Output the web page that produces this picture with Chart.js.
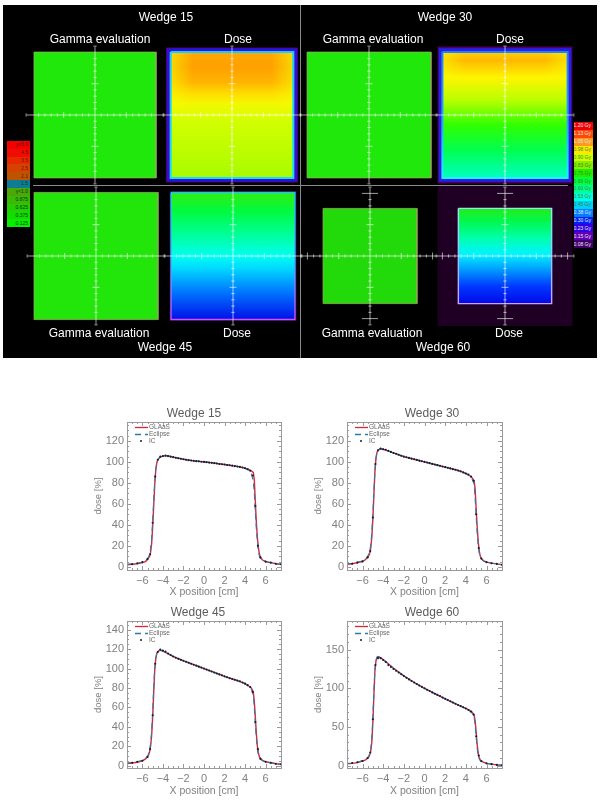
<!DOCTYPE html>
<html><head><meta charset="utf-8">
<script src="https://cdn.jsdelivr.net/npm/chart.js@4/dist/chart.umd.min.js"></script>
<style>
html,body{margin:0;padding:0;background:#fff;width:600px;height:806px;overflow:hidden;font-family:"Liberation Sans",Arial,sans-serif}
#black{position:absolute;left:3px;top:5px;width:594px;height:353px;background:#000}
.div{position:absolute;background:#8a8a8a}
canvas{position:absolute}
.t{position:absolute;color:#fff;font-size:12px;transform:translate(-50%,-50%);white-space:nowrap}
.t.g{color:#5c5c5c}
.strip{position:absolute}
.strip div{font-size:5px;line-height:1;white-space:nowrap;overflow:hidden;padding-right:2px;box-sizing:border-box;display:flex;align-items:center;justify-content:flex-end}
</style></head><body>
<div id="black"></div>
<div class="div" style="left:300px;top:5px;width:1px;height:353px"></div>
<div class="div" style="left:33px;top:185px;width:535px;height:1px"></div>
<div id="root"></div>
<script>
// ---------- profile data ----------
const wedgeTitles = ['Wedge 15','Wedge 30','Wedge 45','Wedge 60'];
const seriesNames = ['GLAaS','Eclipse','IC'];
const xLine = [-7.5,-7,-6.5,-6,-5.7,-5.5,-5.4,-5.3,-5.2,-5.1,-5,-4.9,-4.8,-4.7,-4.6,-4.5,-4.3,-4,-3.7,-3,-2,-1,0,1,2,3,3.5,4,4.3,4.6,4.8,4.9,5,5.1,5.2,5.3,5.4,5.5,5.7,6,6.5,7,7.5];
const xIC = [-7.5,-7,-6.5,-6,-5.5,-5.25,-5,-4.75,-4.5,-4.25,-4,-3.75,-3.5,-3.25,-3,-2.75,-2.5,-2.25,-2,-1.75,-1.5,-1.25,-1,-0.75,-0.5,-0.25,0,0.25,0.5,0.75,1,1.25,1.5,1.75,2,2.25,2.5,2.75,3,3.25,3.5,3.75,4,4.25,4.5,4.75,5,5.25,5.5,6,6.5,7,7.5];
const glaas15 = [2,2.5,3,4,5,7,8.5,10,14,22,38,58,78,92,99,102,104.5,105.5,106,104.5,102.5,101,100,98.8,97.5,96,95.2,94,93,91.5,90,83,62,42,28,18,12,9,6.5,5,4,3,2.5];
const eclipse15 = [2.5,3,3.5,4.5,6,8,9.5,12,17,27,44,63,81,93,99,102,104.5,105.5,106,104.5,102.5,101,100,98.8,97.5,96,95.2,93.8,92.5,89,82,70,52,36,24,15,10,8,6,5,4,3,2.5];
const ic15 = [2,2.5,3.5,4.5,7.5,12,42,86,102,105,105.5,106,105.5,105,104.5,104,103.5,103,102.5,102,101.6,101.3,101,100.7,100.5,100.2,100,99.6,99.3,99.1,98.8,98.4,98,97.8,97.5,97.1,96.8,96.4,96,95.6,95.2,94.7,94,93,91.5,87,58,20,9,5,4,3,2.5];
const glaas30 = [2.5,3,4,5,7,9,10.5,13,18,28,45,68,90,103,109,111,112.5,112,111,108.5,105,102.5,100,97.5,95,92.5,91,89,87.5,85,82,74,55,38,24,15,10,8,6,4.5,3.5,2.8,2];
const eclipse30 = [3,3.5,4.5,5.5,7.5,10,12,15,21,32,50,72,92,104,109,111,112.5,112,111,108.5,105,102.5,100,97.5,95,92.5,91,88.8,87,84,79,65,47,32,20,13,9,7.5,5.5,4.5,3.5,2.8,2];
const ic30 = [2.5,3,4,5.2,9,15,47,98,111,112.8,112,111.5,110.5,109.5,108.5,107.7,106.8,105.9,105,104.4,103.8,103.1,102.5,101.9,101.2,100.6,100,99.4,98.8,98.1,97.5,96.9,96.3,95.6,95,94.4,93.8,93.1,92.5,91.8,91,90,89,88,86,82,50,18,8,4.5,3.5,2.8,2];
const glaas45 = [2.2,2.8,3.5,5,7,9,11,14,20,31,50,75,98,110,115.5,117.5,119,118,116.5,112.5,108,104,100,96,92,88.5,86.5,84.5,82.5,80,76,66,50,33,20,13,9,7.5,5.5,4,3,2,1.5];
const eclipse45 = [2.8,3.3,4,5.5,7.5,10,12,16,23,35,55,80,100,110.5,115.5,117.5,119,118,116.5,112.5,108,104,100,96,92,88.5,86.5,84.3,82,79,73,60,43,28,17,11,8,6.5,5,4,3,2,1.5];
const ic45 = [2.2,3,4,5,9,17,52,105,117,119.5,118.5,117.5,115.5,114,112.5,111.2,110,109,108,107,106,105,104,103,102,101,100,99,98,97,96,95,94,93,92,91,90,89.2,88.5,87.7,87,85.7,84.5,83,81,76,45,17,7,4,3,2,1.5];
const glaas60 = [2.5,3,4,6,7.5,9.5,11,14,19,30,55,90,122,135,140,141,140,137,134,126,116,107.5,100,93,86.5,80,77,74,72,69.5,65.5,58,43,27,16,10,7.5,6,4.5,3,2,1,0.5];
const eclipse60 = [3,3.5,4.5,6.5,8,10.5,12,16,22,35,62,96,125,136,140,141,140,137,134,126,116,107.5,100,93,86.5,80,77,73.8,71.5,68,63,52,36,22,13,8.5,6.5,5.5,4,3,2,1,0.5];
const ic60 = [3,3.5,4.5,6,10,17,60,130,139,139,136.5,134,130,127.5,125,122.7,120.5,118.2,116,113.7,111.5,109.5,107.5,105.6,103.7,101.8,100,98.2,96.5,94.7,93,91.5,90,88.2,86.5,84.8,83.2,81.6,80,78.5,77,75.5,74,72,70,66,38,13,6,3,2,1,0.5];
const xTicks = [-6,-4,-2,0,2,4,6];
const yTicksShort = [0,20,40,60,80,100,120];
const yTicksMid = [0,20,40,60,80,100,120,140];
const yTicksTall = [0,50,100,150];

// ---------- map data (cm) ----------
const fieldHalfWidth = [9.75,9.8,9.9,10,9.9,9.9,7.5,7.45];
const fieldHalfHeight = [10.05,10.05,10.05,10.05,10.15,10.15,7.6,7.6];
const glowHalfWidth = [0,10.55,0,10.8,0,10.2,0,10.8];
const glowHalfHeight = [0,10.8,0,10.95,0,10.4,0,11.2];
const crossMinor = [-11,-9,-8,-7,-6,-4,-3,-2,-1,1,2,3,4,6,7,8,9,11];
const crossFive = [-5,5];
const crossTen = [-10,10];
const gammaScale = ['#20e80a','#20e80a','#22e60a','#22da0a'];
const stops15 = [[0,'#ffa800'],[0.12,'#ffa000'],[0.24,'#ffb400'],[0.33,'#ffdc00'],[0.41,'#f4f800'],[0.55,'#d2ff00'],[1,'#a8fb00']];
const stops30 = [[0,'#ffd000'],[0.06,'#ffb800'],[0.12,'#ffd000'],[0.2,'#fff400'],[0.38,'#baff00'],[0.58,'#30ff00'],[0.78,'#00ff50'],[1,'#00ffc0']];
const stops45 = [[0,'#30ee10'],[0.15,'#00fa40'],[0.33,'#00ff98'],[0.5,'#00fff0'],[0.6,'#00d8ff'],[0.78,'#0078ff'],[1,'#0010e8']];
const stops60 = [[0,'#22ee18'],[0.14,'#00f850'],[0.32,'#00ffb0'],[0.48,'#00f4ff'],[0.62,'#00a8ff'],[0.82,'#0038ff'],[1,'#0008e8']];
const doseStops = [stops15,stops30,stops45,stops60];
const sideFadeDepth = [0.42,0.22,0,0];
const sideFadeStops = [[0,'rgba(245,250,0,0.6)'],[0.18,'rgba(245,250,0,0)'],[0.82,'rgba(245,250,0,0)'],[1,'rgba(245,250,0,0.6)']];
const glowColors = ['#4a0068','#4a0060','#1e0434','#1f0024'];
const ringColors = ['#3010d8','#2820e8','#4010c0','#2a0060'];
const edgeStops = [
  [[0,'#10d0ff'],[1,'#10e0f0']],
  [[0,'#2080ff'],[0.5,'#20a0ff'],[1,'#20f0ff']],
  [[0,'#20c0ff'],[0.5,'#40b0ff'],[1,'#d050ff']],
  [[0,'#a0e0ff'],[0.5,'#a0c0ff'],[1,'#d0a0ff']]
];
const gammaLegend = ['γ≥5.0','4.5','3.5','2.5','2.1','1.5','γ<1.0','0.875','0.625','0.375','0.125'];
const gammaColors = ['#f40000','#f00c00','#e62a00','#d64200','#bc5400','#0f7c96','#4ca808','#3cb806','#26cc04','#14dc02','#06ee00'];
const doseLegend = ['1.20 Gy','1.13 Gy','1.05 Gy','0.98 Gy','0.90 Gy','0.83 Gy','0.75 Gy','0.68 Gy','0.60 Gy','0.53 Gy','0.45 Gy','0.38 Gy','0.30 Gy','0.23 Gy','0.15 Gy','0.08 Gy'];
const doseColors = ['#f00000','#ff4800','#ff9a18','#ffe800','#d0ff00','#88ee00','#20ee00','#00ff40','#00ff90','#00ffe0','#00d0ff','#0080ff','#0020f0','#3000e0','#6000b0','#40006a'];

Chart.defaults.font.family = '"Liberation Sans",Arial,sans-serif';
const root = document.getElementById('root');
function makeCanvas(left,top,w,h){
  const c=document.createElement('canvas');
  c.width=w;c.height=h;c.style.left=left+'px';c.style.top=top+'px';c.style.width=w+'px';c.style.height=h+'px';
  root.appendChild(c);return c;
}
// ---------- map panels ----------
const R = 11.5, PANEL = 144;
const panelCenters = [[95,115],[232,115],[369,115],[504.5,115],[96,255.5],[233,255.5],[370,255.5],[504.5,255.5]];
function gradient(chart,from,to,stops){
  const y=chart.scales.y;
  const a=y?y.getPixelForValue(from):NaN,b=y?y.getPixelForValue(to):NaN;
  if(!isFinite(a)||!isFinite(b)) return stops[0][1];
  const g=chart.ctx.createLinearGradient(0,a,0,b);
  stops.forEach(s=>g.addColorStop(s[0],s[1]));
  return g;
}
function gradientX(chart,from,to,stops){
  const x=chart.scales.x;
  const a=x?x.getPixelForValue(from):NaN,b=x?x.getPixelForValue(to):NaN;
  if(!isFinite(a)||!isFinite(b)) return 'rgba(0,0,0,0)';
  const g=chart.ctx.createLinearGradient(a,0,b,0);
  stops.forEach(s=>g.addColorStop(s[0],s[1]));
  return g;
}
function rectFill(hw,top,bottom,color){
  return {data:[{x:-hw,y:top},{x:hw,y:top}],fill:{value:bottom},borderWidth:0,backgroundColor:color,pointRadius:0,showLine:true};
}
function rectLine(hw,hh,color,width){
  return {data:[{x:-hw,y:hh},{x:hw,y:hh},{x:hw,y:-hh},{x:-hw,y:-hh},{x:-hw,y:hh}],fill:false,borderColor:color,borderWidth:width,pointRadius:0,showLine:true};
}
function crossDatasets(long){
  const col='rgba(255,255,255,0.62)';
  const tick=(vals,horizontal,r)=>({data:vals.map(v=>horizontal?{x:v,y:0}:{x:0,y:v}),showLine:false,pointStyle:'line',pointRadius:r,pointRotation:horizontal?90:0,pointBorderColor:col,pointBorderWidth:1,pointBackgroundColor:col});
  const sets=[
    {data:[{x:-10.9,y:0},{x:10.9,y:0}],showLine:true,borderColor:col,borderWidth:1,pointRadius:0,fill:false},
    {data:[{x:0,y:-10.9},{x:0,y:10.9}],showLine:true,borderColor:col,borderWidth:1,pointRadius:0,fill:false},
    tick(crossMinor,true,1.6),tick(crossMinor,false,1.6),tick(crossFive,true,3),tick(crossFive,false,3.5)
  ];
  if(long){sets.push(tick(crossTen,true,3.5),tick(crossTen,false,8));}
  return sets;
}
panelCenters.forEach((c,i)=>{
  const w=Math.floor(i/2), isDose=i%2===1;
  const hw=fieldHalfWidth[i],hh=fieldHalfHeight[i];
  const layers=[];
  if(isDose){
    layers.push(rectFill(glowHalfWidth[i],glowHalfHeight[i],-glowHalfHeight[i],glowColors[w]));
    if(w<2) layers.push(rectFill(hw+0.62,hh+0.62,-hh-0.62,ringColors[w]));
    layers.push(rectFill(hw,hh,-hh,ctx=>gradient(ctx.chart,hh,-hh,doseStops[w])));
    if(sideFadeDepth[w]>0) layers.push(rectFill(hw,hh,hh-2*hh*sideFadeDepth[w],ctx=>gradientX(ctx.chart,-hw,hw,sideFadeStops)));
    layers.push(rectLine(hw,hh,ctx=>gradient(ctx.chart,hh,-hh,edgeStops[w]),w<2?2:1.4));
  }else{
    layers.push(rectFill(hw,hh,-hh,gammaScale[w]));
    layers.push(rectLine(hw,hh,'rgba(150,170,90,0.8)',1));
  }
  crossDatasets(w===3).forEach(d=>layers.push(d));
  const n=layers.length;
  layers.forEach((d,k)=>{d.order=n-k;});
  const cv=makeCanvas(Math.round(c[0]-PANEL/2),Math.round(c[1]-PANEL/2),PANEL,PANEL);
  new Chart(cv,{type:'scatter',data:{datasets:layers},options:{
    responsive:false,animation:false,events:[],layout:{padding:0,autoPadding:false},
    plugins:{legend:{display:false},title:{display:false},tooltip:{enabled:false}},
    scales:{x:{type:'linear',min:-R,max:R,display:false},y:{type:'linear',min:-R,max:R,display:false}}
  }});
});

// ---------- text ----------
function label(text,x,y,cls){const d=document.createElement('div');d.className='t'+(cls?' '+cls:'');d.textContent=text;d.style.left=x+'px';d.style.top=y+'px';root.appendChild(d);}
[[wedgeTitles[0],166,17],['Gamma evaluation',100,39],['Dose',238,39],
 [wedgeTitles[1],445,17],['Gamma evaluation',373,39],['Dose',510,39],
 ['Gamma evaluation',99,333],['Dose',237,333],[wedgeTitles[2],165,347],
 ['Gamma evaluation',372,333],['Dose',509,333],[wedgeTitles[3],443,347]].forEach(a=>label(a[0],a[1],a[2]));
function strip(left,top,w,rowH,labels,colors,textColor){
  const s=document.createElement('div');s.className='strip';s.style.left=left+'px';s.style.top=top+'px';s.style.width=w+'px';
  labels.forEach((t,i)=>{const r=document.createElement('div');r.textContent=t;r.style.height=rowH+'px';r.style.background=colors[i];r.style.color=textColor(i);s.appendChild(r);});
  root.appendChild(s);
}
strip(7,141,23,7.82,gammaLegend,gammaColors,i=>i<5?'#701000':'#063c06');
strip(574,122,19,7.88,doseLegend,doseColors,i=>(i<3||i>10)?'#e8e8ff':'#3c8a20');

// ---------- profile charts ----------
const axisDecor={id:'axisDecor',afterDatasetsDraw(chart,args,opts){
  const {ctx,chartArea:a,scales:{x,y}}=chart;
  ctx.save();ctx.strokeStyle='#9a9a9a';ctx.lineWidth=1;
  ctx.strokeRect(a.left+.5,a.top+.5,a.right-a.left,a.bottom-a.top);
  ctx.beginPath();
  const hTick=(v,l)=>{const p=Math.round(x.getPixelForValue(v))+.5;ctx.moveTo(p,a.bottom);ctx.lineTo(p,a.bottom-l);ctx.moveTo(p,a.top);ctx.lineTo(p,a.top+l);};
  const vTick=(v,l)=>{const p=Math.round(y.getPixelForValue(v))+.5;ctx.moveTo(a.left,p);ctx.lineTo(a.left+l,p);ctx.moveTo(a.right,p);ctx.lineTo(a.right-l,p);};
  for(let v=-7;v<=7;v+=.5) hTick(v,xTicks.includes(v)?4:2);
  for(let v=0;v<=y.max;v+=opts.minorY) vTick(v,opts.majors.includes(v)?4:2);
  ctx.stroke();
  // legend
  const ds=chart.data.datasets;
  ctx.font='6.5px "Liberation Sans",Arial,sans-serif';ctx.textBaseline='middle';
  const lx=a.left+8,rows=[a.top+5.5,a.top+12.5,a.top+19];
  ctx.lineWidth=1.3;ctx.strokeStyle=ds[0].borderColor;ctx.beginPath();ctx.moveTo(lx,rows[0]);ctx.lineTo(lx+13,rows[0]);ctx.stroke();
  ctx.strokeStyle=ds[1].borderColor;ctx.setLineDash(ds[1].borderDash);ctx.beginPath();ctx.moveTo(lx,rows[1]);ctx.lineTo(lx+13,rows[1]);ctx.stroke();ctx.setLineDash([]);
  ctx.fillStyle=ds[2].pointBackgroundColor;ctx.beginPath();ctx.arc(lx+6,rows[2],1,0,7);ctx.fill();
  ctx.fillStyle='#666';
  rows.forEach((r,i)=>ctx.fillText(ds[i].label,lx+14,r));
  ctx.restore();
}};
const minus=v=>String(v).replace('-','\u2212');
function profile(spec){
  const toPts=(xs,ys)=>xs.map((v,i)=>({x:v,y:ys[i]}));
  const cv=makeCanvas(spec.left,spec.top,spec.width,200);
  label(spec.title,spec.titleX,spec.top+11,'g');
  new Chart(cv,{type:'scatter',plugins:[axisDecor],data:{datasets:[
    {label:seriesNames[0],data:toPts(xLine,spec.glaas),showLine:true,borderColor:'#d8263a',borderWidth:1.4,pointRadius:0,tension:0,order:3},
    {label:seriesNames[1],data:toPts(xLine,spec.eclipse),showLine:true,borderColor:'#2c7ca8',borderWidth:1.1,borderDash:[6,4],pointRadius:0,tension:0,order:2},
    {label:seriesNames[2],data:toPts(xIC,spec.ic),showLine:false,pointRadius:1.05,pointBackgroundColor:'#141c2c',pointBorderWidth:0,order:1}
  ]},options:{
    responsive:false,animation:false,events:[],
    layout:{padding:{left:0,right:spec.right,top:20,bottom:0},autoPadding:false},
    plugins:{
      legend:{display:false},tooltip:{enabled:false},title:{display:false},
      axisDecor:{minorY:spec.minorY,majors:spec.yTicks}
    },
    scales:{
      x:{type:'linear',min:-7.5,max:7.5,grid:{display:false,drawTicks:false},border:{display:false},
        afterBuildTicks:s=>{s.ticks=xTicks.map(v=>({value:v}));},
        afterFit:s=>{s.height=spec.xH;},
        ticks:{color:'#808080',font:{size:11},padding:4,maxRotation:0,autoSkip:false,callback:minus},
        title:{display:true,text:'X position [cm]',color:'#808080',font:{size:10.5},padding:{top:0,bottom:4}}},
      y:{type:'linear',min:spec.yMin,max:spec.yMax,grid:{display:false,drawTicks:false},border:{display:false},
        afterBuildTicks:s=>{s.ticks=spec.yTicks.map(v=>({value:v}));},
        afterFit:s=>{s.width=spec.plotL-spec.left;},
        ticks:{color:'#808080',font:{size:11},padding:3,autoSkip:false,callback:minus},
        title:{display:true,text:'dose [%]',color:'#808080',font:{size:9.5},padding:{top:3,bottom:0}}}
    }
  }});
}
profile({title:wedgeTitles[0],titleX:194,left:90,top:402,width:208,right:17,plotL:127,xH:32,yMin:-3,yMax:138,yTicks:yTicksShort,minorY:5,glaas:glaas15,eclipse:eclipse15,ic:ic15});
profile({title:wedgeTitles[1],titleX:432,left:310,top:402,width:244,right:52,plotL:347,xH:32,yMin:-3,yMax:138,yTicks:yTicksShort,minorY:5,glaas:glaas30,eclipse:eclipse30,ic:ic30});
profile({title:wedgeTitles[2],titleX:198,left:90,top:601,width:216,right:25,plotL:127,xH:33,yMin:-2.4,yMax:149,yTicks:yTicksMid,minorY:5,glaas:glaas45,eclipse:eclipse45,ic:ic45});
profile({title:wedgeTitles[3],titleX:432,left:310,top:601,width:244,right:52,plotL:347,xH:33,yMin:-3,yMax:187,yTicks:yTicksTall,minorY:10,glaas:glaas60,eclipse:eclipse60,ic:ic60});
</script>
</body></html>
